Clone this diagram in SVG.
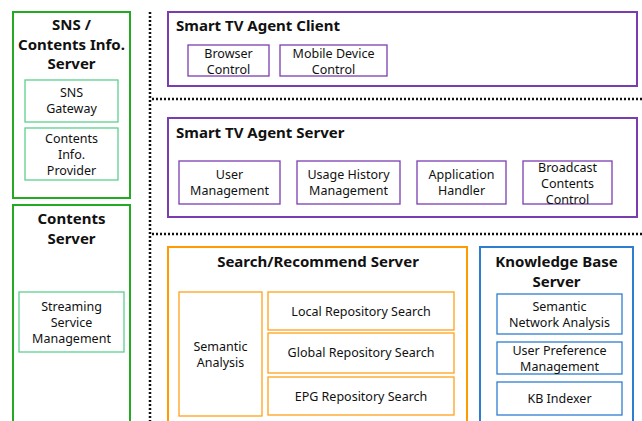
<svg xmlns="http://www.w3.org/2000/svg" width="642" height="421" viewBox="0 0 642 421">
  <style>
    text { font-family: "Noto Sans", "Open Sans", sans-serif; fill: #111; text-anchor: middle; }
    .t { font-size: 15px; font-weight: bold; }
    .s { font-size: 12.5px; }
    .tl { text-anchor: start; }
    .g { fill: #fff; stroke: #22aa22; stroke-width: 2; }
    .gi { fill: #fff; stroke: #5fcf8f; stroke-width: 1.3; }
    .p { fill: #fff; stroke: #7a3db0; stroke-width: 2; }
    .pi { fill: #fff; stroke: #7a3db0; stroke-width: 1.3; }
    .o { fill: #fff; stroke: #ff9a00; stroke-width: 2; }
    .oi { fill: #fff; stroke: #ffa21a; stroke-width: 1.3; }
    .b { fill: #fff; stroke: #2e7dd1; stroke-width: 2; }
    .bi { fill: #fff; stroke: #2e7dd1; stroke-width: 1.3; }
    .dot { fill: none; stroke: #111; stroke-width: 2.5; stroke-dasharray: 2 2; }
  </style>
  <rect width="642" height="421" fill="#fff"/>

  <!-- tier separators -->
  <g id="separators">
    <line class="dot" x1="150" y1="12" x2="150" y2="421"/>
    <line class="dot" x1="152" y1="99" x2="642" y2="99"/>
    <line class="dot" x1="152" y1="234" x2="642" y2="234"/>
  </g>

  <!-- SNS / Contents Info. Server -->
  <g id="sns-server">
    <rect class="g" x="13" y="12" width="117" height="186"/>
    <text class="t" x="71.5" y="30">SNS /</text>
    <text class="t" x="71.5" y="49.5">Contents Info.</text>
    <text class="t" x="71.5" y="69">Server</text>
    <g id="sns-gateway">
      <rect class="gi" x="25" y="80" width="93" height="42"/>
      <text class="s" x="71.5" y="97">SNS</text>
      <text class="s" x="71.5" y="113">Gateway</text>
    </g>
    <g id="contents-info-provider">
      <rect class="gi" x="25" y="128" width="93" height="52"/>
      <text class="s" x="71.5" y="143">Contents</text>
      <text class="s" x="71.5" y="159">Info.</text>
      <text class="s" x="71.5" y="175">Provider</text>
    </g>
  </g>

  <!-- Contents Server -->
  <g id="contents-server">
    <rect class="g" x="13" y="205" width="117" height="230"/>
    <text class="t" x="71.5" y="224">Contents</text>
    <text class="t" x="71.5" y="243.5">Server</text>
    <g id="streaming-service">
      <rect class="gi" x="19" y="292" width="105" height="60"/>
      <text class="s" x="71.5" y="311">Streaming</text>
      <text class="s" x="71.5" y="327">Service</text>
      <text class="s" x="71.5" y="343">Management</text>
    </g>
  </g>

  <!-- Smart TV Agent Client -->
  <g id="agent-client">
    <rect class="p" x="168" y="12" width="469" height="74"/>
    <text class="t tl" x="176" y="31">Smart TV Agent Client</text>
    <g id="browser-control">
      <rect class="pi" x="188" y="45" width="81" height="31"/>
      <text class="s" x="228.5" y="58">Browser</text>
      <text class="s" x="228.5" y="74">Control</text>
    </g>
    <g id="mobile-device-control">
      <rect class="pi" x="280" y="45" width="107" height="31"/>
      <text class="s" x="333.5" y="58">Mobile Device</text>
      <text class="s" x="333.5" y="74">Control</text>
    </g>
  </g>

  <!-- Smart TV Agent Server -->
  <g id="agent-server">
    <rect class="p" x="168" y="118" width="469" height="99"/>
    <text class="t tl" x="176" y="138">Smart TV Agent Server</text>
    <g id="user-management">
      <rect class="pi" x="179" y="161" width="101" height="43"/>
      <text class="s" x="229.5" y="179">User</text>
      <text class="s" x="229.5" y="195">Management</text>
    </g>
    <g id="usage-history">
      <rect class="pi" x="297" y="161" width="103" height="43"/>
      <text class="s" x="348.5" y="179">Usage History</text>
      <text class="s" x="348.5" y="195">Management</text>
    </g>
    <g id="application-handler">
      <rect class="pi" x="417" y="161" width="89" height="43"/>
      <text class="s" x="461.5" y="179">Application</text>
      <text class="s" x="461.5" y="195">Handler</text>
    </g>
    <g id="broadcast-contents-control">
      <rect class="pi" x="523" y="161" width="89" height="43"/>
      <text class="s" x="567.5" y="172">Broadcast</text>
      <text class="s" x="567.5" y="188">Contents</text>
      <text class="s" x="567.5" y="204">Control</text>
    </g>
  </g>

  <!-- Search/Recommend Server -->
  <g id="search-server">
    <rect class="o" x="168" y="247" width="299" height="190"/>
    <text class="t" x="318" y="267">Search/Recommend Server</text>
    <g id="semantic-analysis">
      <rect class="oi" x="179" y="292" width="83" height="124"/>
      <text class="s" x="220.5" y="351">Semantic</text>
      <text class="s" x="220.5" y="367">Analysis</text>
    </g>
    <g id="local-search">
      <rect class="oi" x="268" y="292" width="186" height="38"/>
      <text class="s" x="361" y="316">Local Repository Search</text>
    </g>
    <g id="global-search">
      <rect class="oi" x="268" y="333" width="186" height="40"/>
      <text class="s" x="361" y="357">Global Repository Search</text>
    </g>
    <g id="epg-search">
      <rect class="oi" x="268" y="377" width="186" height="38"/>
      <text class="s" x="361" y="401">EPG Repository Search</text>
    </g>
  </g>

  <!-- Knowledge Base Server -->
  <g id="kb-server">
    <rect class="b" x="480" y="247" width="153" height="190"/>
    <text class="t" x="556.5" y="267">Knowledge Base</text>
    <text class="t" x="556.5" y="286.5">Server</text>
    <g id="semantic-network">
      <rect class="bi" x="497" y="294" width="125" height="40"/>
      <text class="s" x="559.5" y="311">Semantic</text>
      <text class="s" x="559.5" y="327">Network Analysis</text>
    </g>
    <g id="user-preference">
      <rect class="bi" x="497" y="342" width="125" height="32"/>
      <text class="s" x="559.5" y="355">User Preference</text>
      <text class="s" x="559.5" y="371">Management</text>
    </g>
    <g id="kb-indexer">
      <rect class="bi" x="497" y="382" width="125" height="33"/>
      <text class="s" x="559.5" y="403">KB Indexer</text>
    </g>
  </g>
</svg>
